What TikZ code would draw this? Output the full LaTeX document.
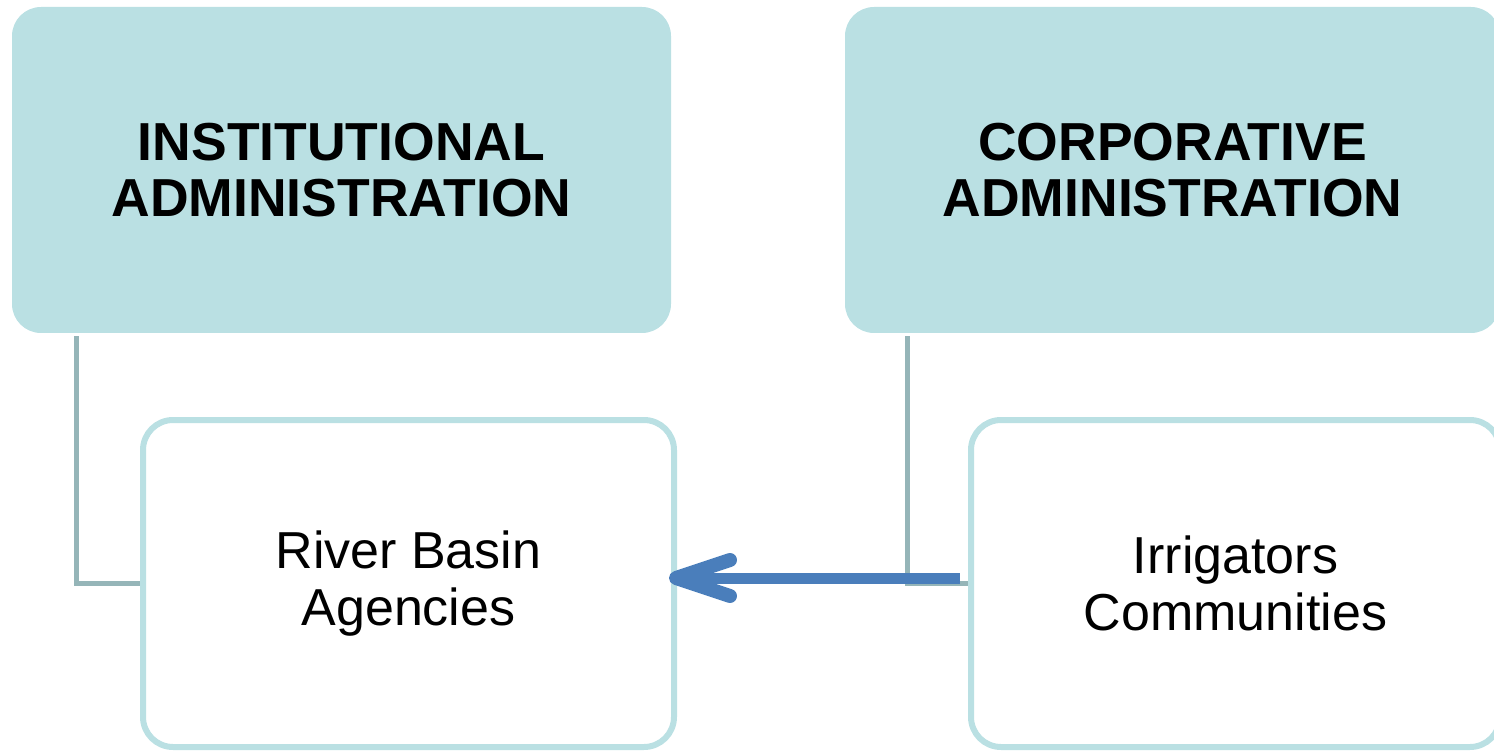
\documentclass[tikz,border=0pt]{standalone}
\usepackage{fontspec}
\setmainfont{Liberation Sans}
\definecolor{headfill}{HTML}{BAE0E3}
\definecolor{linkgray}{HTML}{95B5B8}
\definecolor{flowblue}{HTML}{4A7EBB}
\tikzset{
  headbox/.style={rectangle, rounded corners=29pt, fill=headfill,
    minimum width=659pt, minimum height=326pt, align=center,
    font=\fontsize{53.5}{56}\selectfont\bfseries},
  subbox/.style={rectangle, rounded corners=30pt, draw=headfill, line width=6pt,
    fill=white, minimum width=531pt, minimum height=327pt, align=center,
    font=\fontsize{52}{57}\selectfont},
  link/.style={draw=linkgray, line width=5pt},
  flow/.style={draw=flowblue, line width=11pt},
  flowhead/.style={flow, line width=14pt, line cap=round, line join=round}
}
\begin{document}
\begin{tikzpicture}[x=1pt,y=-1pt]
      \useasboundingbox (0,0) rectangle (1494,751);
      \draw
        (341.5,170) node[headbox] (inst){INSTITUTIONAL\\ADMINISTRATION}
        (1172.5,170) node[headbox, minimum width=655pt] (corp){CORPORATIVE\\ADMINISTRATION}
        (408.5,583.5) node[subbox] (rba){River Basin\\Agencies}
        (1235.5,583.5) node[subbox, minimum width=529pt] (irr){Irrigators\\Communities};
      \begin{scope}[shorten <=3pt]
        \draw[link] ([xshift=-265.5pt]inst.south) |- (rba.west);
        \draw[link] ([xshift=-265.5pt]corp.south) |- (irr.west);
      \end{scope}
      % flow from irrigators to the basin agency
      \coordinate (tip) at ([xshift=-1pt,yshift=5.5pt]rba.east);
      \draw[flow, shorten <=8pt] ([yshift=5.5pt]irr.west) -- ([xshift=4pt]tip);
      \draw[flowhead] ([xshift=54pt,yshift=18pt]tip) -- (tip) -- ([xshift=54pt,yshift=-18pt]tip);
    \end{tikzpicture}
\end{document}
